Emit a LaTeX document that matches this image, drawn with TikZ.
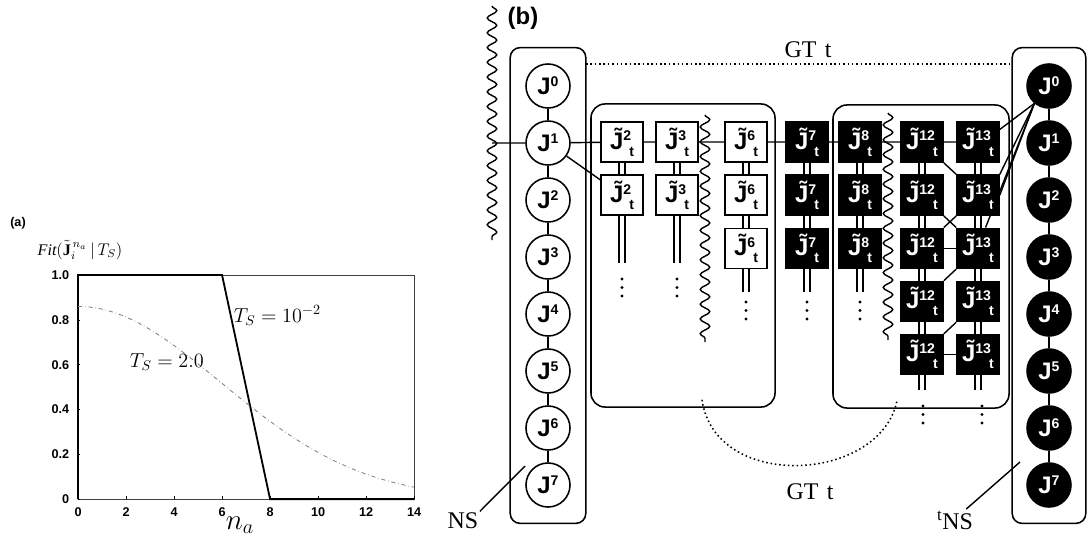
\documentclass[tikz,border=0pt]{standalone}
\usepackage{fontspec}
\setmainfont{Liberation Serif}
\setsansfont{Liberation Sans}
\usetikzlibrary{positioning, fit, decorations.pathmorphing}

% labels of the circles and of the boxes
\newcommand{\sj}[1]{J\raisebox{0.65ex}{\fontsize{10}{10}\selectfont #1}}
\newcommand{\tj}[1]{\~{J}\raisebox{0.65ex}{\fontsize{10}{10}\selectfont #1}\kern2pt\llap{\raisebox{-0.55ex}{\fontsize{10}{10}\selectfont t}}}

\tikzset{vdts/.pic={\foreach \k in {0,1,2} \fill (0,{8.5*\k}) circle (1.1pt);}}

\begin{document}
\begin{tikzpicture}[x=0.025cm, y=-0.025cm,
  node distance=0.29cm,
  jn/.style={draw, circle, line width=1.1pt, minimum size=1.1cm, inner sep=0pt,
             font=\sffamily\bfseries\fontsize{17}{19}\selectfont},
  jb/.style={jn, fill=black, text=white},
  gj/.style={draw, rectangle, line width=1.1pt, minimum width=1.05cm, minimum height=1cm,
             inner sep=0pt, font=\sffamily\bfseries\fontsize{17}{19}\selectfont},
  gjb/.style={gj, fill=black, text=white},
  grp/.style={draw, line width=1.1pt, rounded corners=10pt},
  l/.style={line width=1pt},
  dl/.style={double, double distance=3.2pt, line width=1pt},
  wave/.style={decorate, decoration={snake, amplitude=3.4pt, segment length=10.5pt}, line width=1pt},
  gtl/.style={dotted, line width=1.1pt},
  lbl/.style={font=\fontsize{17}{19}\selectfont, inner sep=1pt},
  tick/.style={font=\sffamily\bfseries\fontsize{9}{10}\selectfont, inner sep=1pt},
  fs/.style={font=\fontsize{14}{16}\selectfont}]
  \useasboundingbox (0,0) rectangle (1087,539);

  % (a) fitness curves
  \node[font=\sffamily\bfseries\fontsize{9}{10}\selectfont] (alab) at (18,223) {(a)};
  \node[font=\fontsize{11.5}{13}\selectfont, inner sep=0pt] (ylab) at (80,250) {$\mathit{Fit}(\tilde{\mathbf{J}}^{\,n_a}_{i}\,|\,T_S)$};
  \begin{scope}[shift={(1.95cm,-12.475cm)}, x=0.6cm, y=5.6cm]
    \draw[line width=0.7pt, black!75] (0,0) rectangle (14,1);
    \foreach \n in {0,2,...,14} {
      \draw[line width=0.5pt] (\n,0) -- (\n,0.012);
      \node[tick] (xt\n) at (\n,-0.058) {\n};
    }
    \foreach \v/\t [count=\c] in {0/0, 0.2/0.2, 0.4/0.4, 0.6/0.6, 0.8/0.8, 1/1.0} {
      \draw[line width=0.5pt] (0,\v) -- (0.1,\v);
      \node[tick, anchor=east] (yt\c) at (-0.3,\v) {\t};
    }
    \draw[line width=1.3pt] (0,0) -- (0,1) -- (6,1) -- (8,0) -- (14,0);
    \draw[gray, dash dot, line width=0.6pt, domain=0:14, samples=60]
      plot (\x, {0.86*exp(-(\x/8.4)^2)});
    \node[fs] (ts2) at (3.7,0.61) {$T_S = 2.0$};
    \node[fs] (ts1) at (8.3,0.82) {$T_S = 10^{-2}$};
  \end{scope}
  \node[font=\fontsize{20}{22}\selectfont] (nalab) at (240,525) {$n_a$};

  % (b) networks
  \node[font=\sffamily\bfseries\fontsize{17}{19}\selectfont] (blab) at (523,18) {(b)};
  \draw[wave] (492,6) -- (492,240);
  \coordinate (w0) at (492,143);

  \foreach \k in {0,...,7} {
    \node[jn] (ns\k) at (548,{86+57*\k}) {\sj{\k}};
    \node[jb] (tn\k) at (1049,{86+57*\k}) {\sj{\k}};
  }
  \foreach \k [count=\c] in {0,...,6} {
    \draw[l] (ns\k) -- (ns\c);
    \draw[l] (tn\k) -- (tn\c);
  }
  \node[grp, rounded corners=7pt, fit=(ns0)(ns7), inner xsep=0.375cm, inner ysep=0.39cm] (nsbox) {};
  \node[grp, rounded corners=7pt, fit=(tn0)(tn7), inner xsep=0.35cm, inner ysep=0.39cm] (tnsbox) {};

  \node[grp, minimum width=4.6cm, minimum height=7.575cm] (gt1) at (683,255.5) {};
  \node[grp, minimum width=4.4cm, minimum height=7.575cm] (gt2) at (921,256.5) {};

  % white boxes
  \node[gj] (j2a) at (622,142) {\tj{2}};
  \node[gj, below=of j2a] (j2b) {\tj{2}};
  \node[gj] (j3a) at (677,142) {\tj{3}};
  \node[gj, below=of j3a] (j3b) {\tj{3}};
  \node[gj] (j6a) at (746,142) {\tj{6}};
  \node[gj, below=of j6a] (j6b) {\tj{6}};
  \node[gj, below=of j6b] (j6c) {\tj{6}};
  % black boxes
  \node[gjb] (j7a) at (807,142) {\tj{7}};
  \node[gjb, below=of j7a] (j7b) {\tj{7}};
  \node[gjb, below=of j7b] (j7c) {\tj{7}};
  \node[gjb] (j8a) at (860,142) {\tj{8}};
  \node[gjb, below=of j8a] (j8b) {\tj{8}};
  \node[gjb, below=of j8b] (j8c) {\tj{8}};
  \node[gjb] (j12a) at (922,142) {\tj{12}};
  \node[gjb, below=of j12a] (j12b) {\tj{12}};
  \node[gjb, below=of j12b] (j12c) {\tj{12}};
  \node[gjb, below=of j12c] (j12d) {\tj{12}};
  \node[gjb, below=of j12d] (j12e) {\tj{12}};
  \node[gjb] (j13a) at (978,142) {\tj{13}};
  \node[gjb, below=of j13a] (j13b) {\tj{13}};
  \node[gjb, below=of j13b] (j13c) {\tj{13}};
  \node[gjb, below=of j13c] (j13d) {\tj{13}};
  \node[gjb, below=of j13d] (j13e) {\tj{13}};

  \draw[wave] (705,115) -- (705,342);
  \draw[wave] (888,113) -- (888,340);

  % links
  \draw[l] (w0) -- (ns1) -- (j2a) -- (j3a) -- (j6a) -- (j7a) -- (j8a) -- (j12a) -- (j13a);
  \draw[l] (ns1) -- (j2b);
  \draw[l] (j12a.south east) -- (j13b.north west);
  \draw[l] (j12b.south east) -- (j13c.north west);
  \draw[l] (j13b.south west) -- (j12c.north east);
  \draw[l] (j12c) -- (j13c);
  \draw[l] (j13c.south west) -- (j12d.north east);
  \draw[l] (j13d.south west) -- (j12e.north east);
  \draw[l] (j12e) -- (j13e);
  \draw[l] (j13a.30) -- (tn0.230);
  \draw[l] (j13b.north east) -- (tn0.230);
  \draw[l] (j13b.east) -- (tn0.230);
  \draw[l] (j13c.70) -- (tn0.230);

  \coordinate (e2) at (622,263);
  \coordinate (e3) at (677,263);
  \coordinate (e6) at (746,292);
  \coordinate (e7) at (807,292);
  \coordinate (e8) at (860,292);
  \coordinate (e12) at (922,390);
  \coordinate (e13) at (978,390);
  \draw[dl] (j2a) -- (j2b) -- (e2);
  \draw[dl] (j3a) -- (j3b) -- (e3);
  \draw[dl] (j6a) -- (j6b) -- (j6c) -- (e6);
  \draw[dl] (j7a) -- (j7b) -- (j7c) -- (e7);
  \draw[dl] (j8a) -- (j8b) -- (j8c) -- (e8);
  \draw[dl] (j12a) -- (j12b) -- (j12c) -- (j12d) -- (j12e) -- (e12);
  \draw[dl] (j13a) -- (j13b) -- (j13c) -- (j13d) -- (j13e) -- (e13);
  \pic at (622,279) {vdts};
  \pic at (677,279) {vdts};
  \pic at (746,302) {vdts};
  \pic at (807,302) {vdts};
  \pic at (860,302) {vdts};
  \pic at (923,406) {vdts};
  \pic at (982,406) {vdts};

  % GT t
  \coordinate (gta) at (586,64);
  \coordinate (gtb) at (1013,64);
  \draw[gtl] (gta) -- (gtb) node[lbl, pos=0.52, above=3pt] (gttop) {GT\hspace{0.35em}t};
  \draw[gtl] ([xshift=0.475cm,yshift=0.2cm]gt1.south) .. controls +(13,92) and +(-17,82) .. ([xshift=-0.6cm,yshift=0.2cm]gt2.south);
  \node[lbl] (gtbot) at (810,492) {GT\hspace{0.35em}t};

  % NS and tNS
  \node[lbl] (nslab) at (463,521) {NS};
  \coordinate (nsend) at (525,466);
  \draw[l] (nslab.north east) -- (nsend);
  \node[lbl] (tnslab) at (955,520) {\textsuperscript{t}NS};
  \coordinate (tnsend) at (1020,462);
  \draw[l] ([xshift=-6pt]tnslab.north east) -- (tnsend);
\end{tikzpicture}
\end{document}
